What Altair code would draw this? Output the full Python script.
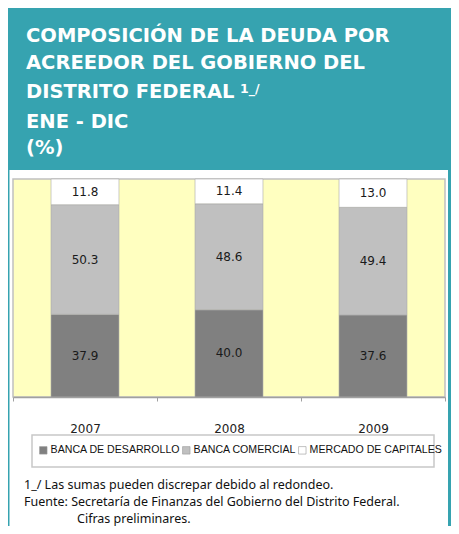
import altair as alt
import pandas as pd

years = ["2007", "2008", "2009"]
series = ["BANCA DE DESARROLLO", "BANCA COMERCIAL", "MERCADO DE CAPITALES"]
desarrollo = [37.9, 40.0, 37.6]
comercial = [50.3, 48.6, 49.4]
capitales = [11.8, 11.4, 13.0]
colors = ["#808080", "#C0C0C0", "#FFFFFF"]

title_lines = ["COMPOSICIÓN DE LA DEUDA POR", "ACREEDOR DEL GOBIERNO DEL",
               "DISTRITO FEDERAL", "ENE - DIC", "(%)"]
title_sup = "1_/"
notes = ["1_/ Las sumas pueden discrepar debido al redondeo.",
         "Fuente: Secretaría de Finanzas del Gobierno del Distrito Federal.",
         "Cifras preliminares."]

rows = []
for i, (s, vals) in enumerate(zip(series, [desarrollo, comercial, capitales])):
    for y, v in zip(years, vals):
        rows.append({"year": y, "serie": s, "v": v, "idx": i})
df = pd.DataFrame(rows)

W, H = 432, 218
TEAL = "#36A3B0"
dummy = pd.DataFrame({"a": [0]})

def box(x1, x2, y1, y2, **kw):
    return alt.Chart(dummy).mark_rect(**kw).encode(
        x=alt.value(x1), x2=alt.value(x2), y=alt.value(y1), y2=alt.value(y2))

teal = box(-5, 438, -171, 347, color=TEAL)
white = box(-3.5, 435, -9, 347, color="white")
plotbg = box(0, W, 0, H, fill="#FFFFC0", stroke="#C0C0C0", strokeWidth=1.5)
legbox = box(19, 421, 256, 288, fill="white", stroke="#C8C8C8", strokeWidth=1.5)

xenc = alt.X("year:N", sort=years, title=None,
             scale=alt.Scale(paddingInner=0, paddingOuter=0),
             axis=alt.Axis(labelAngle=0, tickBand="extent", domainColor="#A0A0A0",
                           tickColor="#A0A0A0", tickSize=4, labelPadding=22,
                           labelFont="DejaVu Sans", labelFontSize=12,
                           labelColor="#222222", domainWidth=1.5, zindex=2))
yscale = alt.Scale(domain=[0, 100])

bars = alt.Chart(df).mark_bar(width=alt.RelativeBandSize(0.472), stroke="#A8A8A8",
                              strokeWidth=0.6).encode(
    x=xenc,
    y=alt.Y("v:Q", stack="zero", scale=yscale, axis=None),
    color=alt.Color("serie:N", scale=alt.Scale(domain=series, range=colors),
                    legend=alt.Legend(orient="none", legendX=25, legendY=266,
                                      direction="horizontal", columns=3,
                                      columnPadding=0, title=None,
                                      symbolType="square", symbolSize=56,
                                      symbolStrokeColor="#999999",
                                      symbolStrokeWidth=0.6,
                                      labelFont="Liberation Sans",
                                      labelFontSize=10.6, labelColor="#111111",
                                      labelOffset=2, labelLimit=300, zindex=2)),
    order=alt.Order("idx:Q", sort="ascending"),
)

labels = alt.Chart(df).transform_stack(
    stack="v", groupby=["year"], as_=["y0", "y1"],
    sort=[alt.SortField("idx", order="ascending")]
).transform_calculate(mid="(datum.y0 + datum.y1) / 2").mark_text(
    font="DejaVu Sans", fontSize=12, color="#1A1A1A", baseline="middle"
).encode(
    x=alt.X("year:N", sort=years),
    y=alt.Y("mid:Q", scale=yscale),
    text=alt.Text("v:Q", format=".1f"),
)

layers = [teal, white, plotbg, legbox, bars, labels]

title_y = [-137.5, -110, -81.5, -51.5, -25.5]
for t, yy in zip(title_lines, title_y):
    layers.append(alt.Chart(dummy).mark_text(
        text=t, align="left", baseline="alphabetic", font="DejaVu Sans",
        fontWeight="bold", fontSize=19.5, color="white"
    ).encode(x=alt.value(13), y=alt.value(yy)))
layers.append(alt.Chart(dummy).mark_text(
    text=title_sup, align="left", baseline="alphabetic", font="DejaVu Sans",
    fontWeight="bold", fontSize=12.5, color="white"
).encode(x=alt.value(227), y=alt.value(-86)))

note_pos = [(11, 310), (11, 327), (64, 344)]
for t, (xx, yy) in zip(notes, note_pos):
    layers.append(alt.Chart(dummy).mark_text(
        text=t, align="left", baseline="alphabetic", font="Noto Sans",
        fontSize=12.5, color="#111111"
    ).encode(x=alt.value(xx), y=alt.value(yy)))

chart = alt.layer(*layers).properties(
    width=W, height=H,
    padding={"left": 5, "top": 171, "right": 6, "bottom": 129},
    autosize=alt.AutoSizeParams(type="none"),
    background="white",
).configure_view(stroke=None)

chart.save("out.html", embed_options={"renderer": "svg", "actions": False})
